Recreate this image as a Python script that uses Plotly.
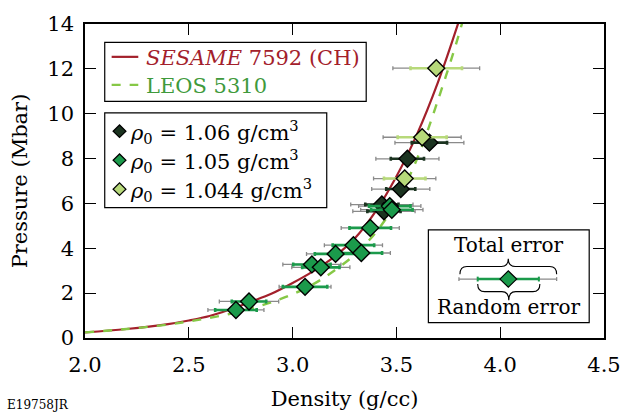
import plotly.graph_objects as go

# ---- Equation-of-state model curves (density in g/cc, pressure in Mbar) ----
sesame_rho = [2.0, 2.2, 2.4, 2.5, 2.6, 2.7, 2.8, 2.9, 3.0, 3.1, 3.2, 3.3, 3.4, 3.5, 3.6, 3.7, 3.8, 3.85]
sesame_p = [0.25, 0.40, 0.62, 0.78, 0.98, 1.28, 1.62, 1.98, 2.45, 2.98, 3.62, 4.45, 5.65, 7.2, 9.1, 11.4, 14.1, 15.6]

leos_rho = [2.0, 2.2, 2.4, 2.5, 2.6, 2.7, 2.8, 2.9, 3.0, 3.1, 3.2, 3.3, 3.4, 3.5, 3.6, 3.7, 3.8, 3.85]
leos_p = [0.25, 0.40, 0.60, 0.74, 0.90, 1.08, 1.32, 1.60, 1.95, 2.40, 3.0, 3.72, 4.7, 6.05, 8.0, 10.6, 13.5, 15.2]

# ---- Measurements: rho0 = 1.06 g/cm3 ----
rho_a = [3.659, 3.553, 3.521, 3.430, 3.440]
p_a = [8.71, 7.99, 6.64, 5.95, 5.65]
tot_a = [0.166, 0.152, 0.140, 0.150, 0.150]
rnd_a = [0.085, 0.080, 0.070, 0.080, 0.080]

# ---- Measurements: rho0 = 1.05 g/cm3 ----
rho_b = [3.468, 3.478, 3.374, 3.293, 3.331, 3.207, 3.093, 3.136, 3.060, 2.790, 2.727]
p_b = [5.88, 5.72, 4.91, 4.14, 3.79, 3.75, 3.28, 3.15, 2.28, 1.63, 1.25]
tot_b = [0.150, 0.150, 0.140, 0.140, 0.140, 0.140, 0.140, 0.140, 0.125, 0.143, 0.135]
rnd_b = [0.100, 0.100, 0.100, 0.100, 0.100, 0.100, 0.090, 0.090, 0.107, 0.083, 0.100]

# ---- Measurements: rho0 = 1.044 g/cm3 ----
rho_c = [3.692, 3.624, 3.540]
p_c = [12.03, 8.95, 7.11]
tot_c = [0.209, 0.188, 0.150]
rnd_c = [0.124, 0.118, 0.100]

x_ticks = [2.0, 2.5, 3.0, 3.5, 4.0, 4.5]
y_ticks = [0, 2, 4, 6, 8, 10, 12, 14]

model_labels = ["<i>SESAME</i> 7592 (CH)", "LEOS 5310"]
density_labels = ["1.06", "1.05", "1.044"]

RED = "#a3202b"
LEOS_LINE = "#86c846"
LEOS_TEXT = "#3f9a3c"
DARK = "#1b3320"
MID = "#1b9a4b"
LIGHT = "#b7d97a"
GRAY = "#8a8a8a"
FONT = "DejaVu Serif"
FS = 21

fig = go.Figure()

fig.add_trace(go.Scatter(
    x=sesame_rho, y=sesame_p, mode="lines", line=dict(color=RED, width=2.2, shape="spline"),
    showlegend=False, name="SESAME 7592"))
fig.add_trace(go.Scatter(
    x=leos_rho, y=leos_p, mode="lines", line=dict(color=LEOS_LINE, width=2.4, dash="dash", shape="spline"),
    showlegend=False, name="LEOS 5310"))

groups = [
    (rho_a, p_a, tot_a, rnd_a, DARK),
    (rho_b, p_b, tot_b, rnd_b, MID),
    (rho_c, p_c, tot_c, rnd_c, LIGHT),
]

# total error bars (gray) underneath everything
for rho, p, tot, rnd, col in groups:
    fig.add_trace(go.Scatter(
        x=rho, y=p, mode="markers", marker=dict(size=1, opacity=0),
        error_x=dict(type="data", array=tot, color=GRAY, thickness=1.3, width=2),
        showlegend=False, hoverinfo="skip"))

# random error bars with the markers on top
for rho, p, tot, rnd, col in groups:
    fig.add_trace(go.Scatter(
        x=rho, y=p, mode="markers",
        marker=dict(symbol="diamond", size=13, color=col, line=dict(color="black", width=1.4)),
        error_x=dict(type="data", array=rnd, color=col, thickness=2.6, width=2),
        showlegend=False))

# ---- legend boxes and error-bar key, laid out in paper coordinates ----
L, R, T, B = 85, 611, 16, 341


def px(xp):
    return (xp - L) / (R - L)


def py(yp):
    return (B - yp) / (B - T)


def pline(x0, x1, y0, y1, color, width, dash="solid"):
    return dict(type="line", xref="paper", yref="paper", x0=px(x0), x1=px(x1), y0=py(y0), y1=py(y1),
                line=dict(color=color, width=width, dash=dash), layer="above")


def pbox(x0, x1, y0, y1):
    return dict(type="rect", xref="paper", yref="paper", x0=px(x0), x1=px(x1), y0=py(y1), y1=py(y0),
                line=dict(color="black", width=1.2), fillcolor="white", layer="above")


def pdiamond(xc, yc, h, color):
    path = "M%.5f,%.5f L%.5f,%.5f L%.5f,%.5f L%.5f,%.5f Z" % (
        px(xc - h), py(yc), px(xc), py(yc - h), px(xc + h), py(yc), px(xc), py(yc + h))
    return dict(type="path", xref="paper", yref="paper", path=path, fillcolor=color,
                line=dict(color="black", width=1.2), layer="above")


def brace(x0, x1, y_end, y_mid, y_tip, r):
    xc = (x0 + x1) / 2
    pts = [
        ("M", [(x0, y_end)]),
        ("Q", [(x0, y_mid), (x0 + r, y_mid)]),
        ("L", [(xc - r, y_mid)]),
        ("Q", [(xc, y_mid), (xc, y_tip)]),
        ("Q", [(xc, y_mid), (xc + r, y_mid)]),
        ("L", [(x1 - r, y_mid)]),
        ("Q", [(x1, y_mid), (x1, y_end)]),
    ]
    out = ""
    for cmd, cs in pts:
        out += cmd + " ".join("%.5f,%.5f" % (px(a), py(b)) for a, b in cs)
    return dict(type="path", xref="paper", yref="paper", path=out,
                line=dict(color="black", width=1.1), layer="above")


def label(text, x, y, size=FS, color="black", anchor="left"):
    return dict(text=text, xref="paper", yref="paper", x=px(x), y=py(y), showarrow=False,
                font=dict(family=FONT, size=size, color=color), xanchor=anchor, yanchor="middle")


shapes = [
    # model legend
    pbox(105, 370, 35, 96),
    pline(112, 139, 50, 50, RED, 2.2),
    pline(112, 139, 79, 79, LEOS_LINE, 2.4, "dash"),
    # initial density legend
    pbox(105, 330, 108, 206),
    pdiamond(120, 127, 6.5, DARK),
    pdiamond(120, 157, 6.5, MID),
    pdiamond(120, 187, 6.5, LIGHT),
    # error key
    pbox(433, 596, 229, 325),
    pline(464, 563, 280, 280, GRAY, 1.3),
    pline(464, 464, 278, 282, GRAY, 1.3),
    pline(563, 563, 278, 282, GRAY, 1.3),
    pline(483, 545, 280, 280, MID, 2.6),
    pline(483, 483, 277.5, 282.5, MID, 2),
    pline(545, 545, 277.5, 282.5, MID, 2),
    pdiamond(514, 280, 8.5, MID),
    brace(465, 563, 275, 267, 259, 7),
    brace(483, 546, 285, 293, 302, 7),
]

annotations = [
    label(model_labels[0], 145, 51, color=RED),
    label(model_labels[1], 145, 80, color=LEOS_TEXT),
    label("Total error", 515, 245, size=20, anchor="center"),
    label("Random error", 514, 309, size=20, anchor="center"),
    label("E19758JR", 4, 410, size=12),
]
for i, lab in enumerate(density_labels):
    annotations.append(label("<i>ρ</i><sub>0</sub> = %s g/cm<sup>3</sup>" % lab, 129, 128 + 30 * i))

axis_common = dict(
    showline=True, linecolor="black", linewidth=1.5, mirror="ticks",
    ticks="inside", ticklen=11, tickwidth=1.3, tickcolor="black",
    showgrid=False, zeroline=False,
    tickfont=dict(family=FONT, size=FS, color="black"),
)

fig.update_layout(
    width=633, height=419,
    margin=dict(l=85, r=22, t=16, b=78),
    paper_bgcolor="white", plot_bgcolor="white",
    font=dict(family=FONT, color="black"),
    showlegend=False,
    xaxis=dict(range=[2.0, 4.5], tickvals=x_ticks, ticktext=["%.1f" % v for v in x_ticks],
               ticklabelstandoff=7,
               title=dict(text="Density (g/cc)", font=dict(family=FONT, size=FS), standoff=15),
               **axis_common),
    yaxis=dict(range=[0, 14], tickvals=y_ticks, ticktext=[str(v) for v in y_ticks],
               ticklabelstandoff=5,
               title=dict(text="Pressure (Mbar)", font=dict(family=FONT, size=FS), standoff=14),
               **axis_common),
    shapes=shapes,
    annotations=annotations,
)

fig.write_html("out.html")
